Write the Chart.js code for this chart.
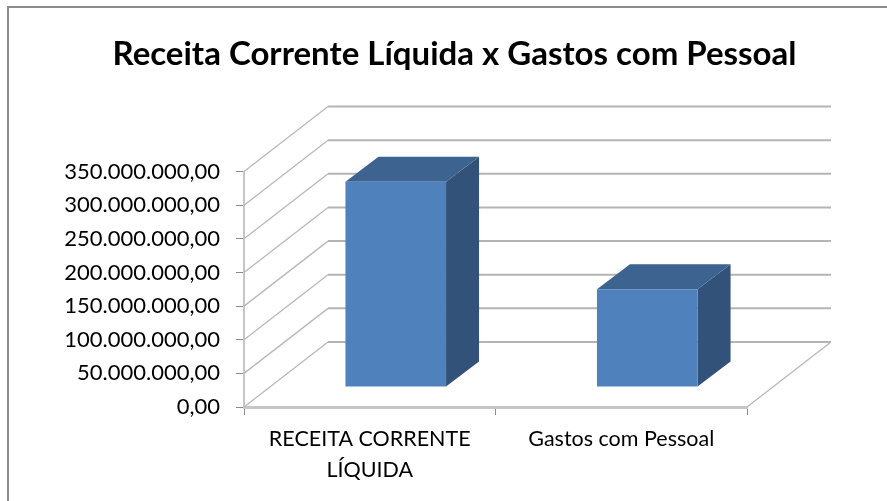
<!DOCTYPE html>
<html>
<head>
<meta charset="utf-8">
<title>Receita Corrente Líquida x Gastos com Pessoal</title>
<script src="https://cdn.jsdelivr.net/npm/chart.js@4/dist/chart.umd.min.js"></script>
<style>
    html, body { margin: 0; padding: 0; background: #fff; }
    canvas { display: block; }
</style>
</head>
<body>
<canvas id="myChart" width="887" height="501"></canvas>
<script>
const categorias = [['RECEITA CORRENTE', 'LÍQUIDA'], 'Gastos com Pessoal'];
const valores = [305000000, 145500000];
const eixoMax = 350000000;
const eixoPasso = 50000000;

// deslocamento da "profundidade" do grafico 3D
const fundo = { x: 84, y: -65 };
const barraFrente = { x: 26, y: -20 };
const barraFundo = { x: 33, y: -25 };

function face(ctx, pontos, cor) {
    ctx.beginPath();
    pontos.forEach((p, i) => i ? ctx.lineTo(p[0], p[1]) : ctx.moveTo(p[0], p[1]));
    ctx.closePath();
    ctx.fillStyle = cor;
    ctx.fill();
}

const efeito3d = {
    id: 'efeito3d',
    afterLayout(chart) {
        // titulo centrado no quadro e nao so na area do grafico
        chart.titleBlock.left = 22;
        chart.titleBlock.right = 887;
    },
    beforeDraw(chart) {
        const ctx = chart.ctx;
        ctx.save();
        ctx.strokeStyle = '#8c8c8c';
        ctx.lineWidth = 2;
        ctx.beginPath();
        ctx.moveTo(8, 501);
        ctx.lineTo(8, 7);
        ctx.lineTo(887, 7);
        ctx.stroke();
        ctx.restore();
    },
    beforeDatasetsDraw(chart) {
        const ctx = chart.ctx;
        const { left, right } = chart.chartArea;
        const y = chart.scales.y;
        ctx.save();
        // paredes: uma linha por marca do eixo
        y.ticks.forEach(t => {
            const py = y.getPixelForValue(t.value);
            ctx.strokeStyle = '#b8b8b8';
            ctx.lineWidth = 1.3;
            ctx.beginPath();
            ctx.moveTo(left, py);
            ctx.lineTo(left + fundo.x, py + fundo.y);
            ctx.stroke();
            ctx.strokeStyle = '#b4b4b4';
            ctx.lineWidth = 2;
            ctx.beginPath();
            ctx.moveTo(left + fundo.x, py + fundo.y);
            ctx.lineTo(right + fundo.x, py + fundo.y);
            ctx.stroke();
        });
        // lado direito do piso
        const base = y.getPixelForValue(0);
        ctx.strokeStyle = '#b8b8b8';
        ctx.lineWidth = 1.3;
        ctx.beginPath();
        ctx.moveTo(right, base);
        ctx.lineTo(right + fundo.x, base + fundo.y);
        ctx.stroke();

        // faces de cima e do lado das barras
        ctx.translate(barraFrente.x, barraFrente.y);
        chart.getDatasetMeta(0).data.forEach(b => {
            const x0 = b.x - b.width / 2;
            const x1 = b.x + b.width / 2;
            const dx = barraFundo.x;
            const dy = barraFundo.y;
            face(ctx, [[x1, b.y], [x1 + dx, b.y + dy], [x1 + dx, b.base + dy], [x1, b.base]], '#325279');
            face(ctx, [[x0, b.y], [x0 + dx, b.y + dy], [x1 + dx, b.y + dy], [x1, b.y]], '#3d6390');
        });
    },
    afterDatasetsDraw(chart) {
        chart.ctx.restore();
    }
};

new Chart(document.getElementById('myChart'), {
    type: 'bar',
    data: {
        labels: categorias,
        datasets: [{
            data: valores,
            backgroundColor: '#4f81bd',
            categoryPercentage: 0.4,
            barPercentage: 1
        }]
    },
    plugins: [efeito3d],
    options: {
        responsive: false,
        animation: false,
        layout: { padding: { top: 0, right: 140, bottom: 0, left: 0 } },
        plugins: {
            legend: { display: false },
            tooltip: { enabled: false },
            title: {
                display: true,
                text: 'Receita Corrente Líquida x Gastos com Pessoal',
                color: '#000',
                font: { family: 'Lato', size: 33, weight: 'bold' },
                padding: { top: 35, bottom: 97 }
            }
        },
        scales: {
            x: {
                afterFit(s) { s.height = 94; },
                border: { color: '#c6c6c6', width: 3 },
                grid: { drawOnChartArea: false, tickColor: '#8c8c8c', tickLength: 8 },
                ticks: {
                    color: '#000',
                    padding: 9,
                    maxRotation: 0,
                    font: { family: 'Lato', size: 21.5, lineHeight: 1.44 }
                }
            },
            y: {
                min: 0,
                max: eixoMax,
                afterFit(s) { s.width = 244; },
                border: { color: '#c6c6c6', width: 2 },
                grid: { drawOnChartArea: false, tickColor: '#8c8c8c', tickLength: 8 },
                ticks: {
                    stepSize: eixoPasso,
                    color: '#000',
                    padding: 16,
                    font: { family: 'Lato', size: 22 },
                    callback: v => v.toLocaleString('pt-BR', { minimumFractionDigits: 2 })
                }
            }
        }
    }
});
</script>
</body>
</html>
